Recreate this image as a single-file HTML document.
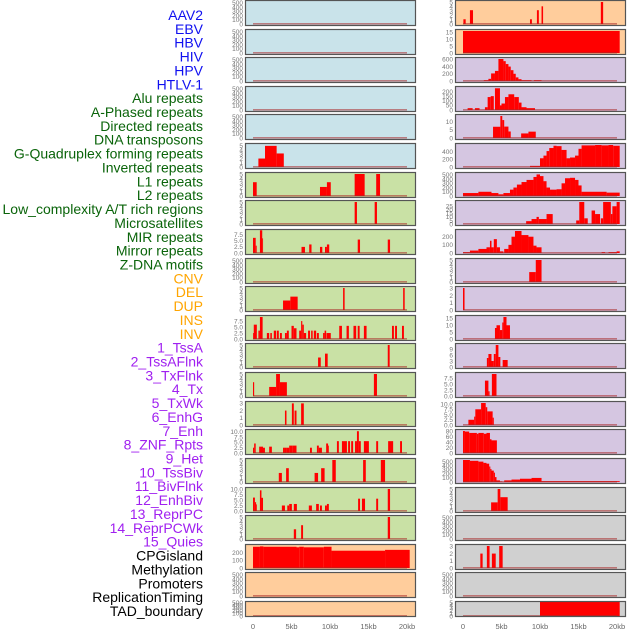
<!DOCTYPE html>
<html><head><meta charset="utf-8">
<style>
html,body{margin:0;padding:0;background:#fff;}
svg{display:block;font-family:"Liberation Sans",sans-serif;}
</style></head>
<body>
<svg id="chart" width="630" height="630" viewBox="0 0 630 630" xmlns="http://www.w3.org/2000/svg"></svg>
<script>
// ---- data ----
const labels = ["AAV2","EBV","HBV","HIV","HPV","HTLV-1","Alu repeats","A-Phased repeats","Directed repeats","DNA transposons","G-Quadruplex forming repeats","Inverted repeats","L1 repeats","L2 repeats","Low_complexity A/T rich regions","Microsatellites","MIR repeats","Mirror repeats","Z-DNA motifs","CNV","DEL","DUP","INS","INV","1_TssA","2_TssAFlnk","3_TxFlnk","4_Tx","5_TxWk","6_EnhG","7_Enh","8_ZNF_Rpts","9_Het","10_TssBiv","11_BivFlnk","12_EnhBiv","13_ReprPC","14_ReprPCWk","15_Quies","CPGisland","Methylation","Promoters","ReplicationTiming","TAD_boundary"];
const labelGroups = [0,0,0,0,0,0,1,1,1,1,1,1,1,1,1,1,1,1,1,2,2,2,2,2,3,3,3,3,3,3,3,3,3,3,3,3,3,3,3,4,4,4,4,4];
const groupColors = ["#1010f0","#0a640a","#ffa500","#a020f0","#000000"];
const xTickValues = [0,5,10,15,20];
const xTickLabels = ["0","5kb","10kb","15kb","20kb"];

const T500=[0,100,200,300,400,500], T5=[0,1,2,3,4,5], T75=[0,2.5,5,7.5], T10=[0,2.5,5,7.5,10],
      T3=[0,1,2,3], T200=[0,100,200], T15=[0,5,10,15], T600=[0,200,400,600], T200b=[0,50,100,150,200],
      T400=[0,200,400], T30=[0,5,10,15,20,25], T9=[0,3,6,9], T80=[0,20,40,60,80];

// segments: [startKb, endKb, value]
const segL5=[[0.7,1.56,2],[1.56,3.07,5],[3.07,4.0,3.2]];
const segL6=[[0,0.48,3.2],[8.7,9.6,2.1],[9.6,10.1,3.2],[13.2,14.5,5.1],[16.0,16.5,5.1]];
const segL7=[[13.2,13.5,5.1],[15.8,16.1,5.1]];
const segL8=[[0,0.35,6.2],[0.35,0.48,3],[0.9,1.2,9.3],[1.2,1.3,6],[6.3,6.75,2.5],[7.3,7.6,3.5],[8.7,9.0,2.5],[9.35,9.6,2.5],[9.6,9.9,3.5],[13.6,13.9,5.5],[17.5,17.8,5.5]];
const segL10=[[3.9,4.85,2.2],[4.85,5.8,3.1],[11.7,11.9,5.1],[19.5,19.7,5.1]];
const segL11=[[0,0.1,2.5],[0.1,0.5,6],[0.7,0.9,3.5],[0.9,1.25,9.2],[1.8,2.1,2.5],[2.25,2.45,2.5],[2.7,3.0,3.5],[3.1,3.35,3.5],[3.5,3.75,2.5],[4.15,4.4,2.5],[4.4,4.65,3.5],[5.0,5.3,5.5],[5.3,5.65,4.5],[6.0,6.25,3.5],[6.25,6.4,7.5],[6.4,6.6,6],[6.6,6.9,2.5],[7.15,7.4,3.5],[7.55,7.75,3.5],[7.9,8.2,3.5],[8.3,8.55,2.5],[9.1,9.3,2.5],[9.3,9.5,3.5],[9.55,10.1,2.5],[11.2,11.55,5.5],[12.15,12.45,5.5],[13.05,13.4,5.5],[13.6,13.85,5.5],[14.4,14.75,5.5],[18.05,18.3,5.5],[18.45,18.7,5.5],[19.35,19.6,5.5]];
const segL12=[[8.45,8.8,2.2],[9.35,9.7,3.1],[17.5,17.75,5.1]];
const segL13=[[0,0.15,3.2],[2.1,3.0,2.1],[3.0,3.5,5.1],[3.5,4.4,3.2],[15.7,16.1,5.1]];
const segL14=[[4.15,4.35,2],[5.05,5.3,3],[5.4,5.65,2],[6.25,6.6,3]];
const segL15=[[0,0.15,2.5],[0.15,0.35,4.5],[0.8,1.3,3],[1.3,1.55,2.5],[2.1,2.45,3],[3.9,4.15,2.5],[4.15,4.4,2.5],[4.4,4.7,2.5],[4.7,5.1,3.5],[5.1,5.65,3.5],[7.4,7.65,2.5],[8.3,8.55,3.5],[8.55,8.95,2.5],[9.5,9.75,4.5],[9.75,9.85,3.5],[10.9,11.15,5.6],[11.55,12.2,5.6],[12.35,12.6,5.6],[12.75,13.0,5.6],[13.25,13.5,5.6],[13.5,13.75,10.3],[13.75,14.0,5.6],[14.4,15.05,5.6],[16.0,16.25,5.6],[17.55,18.2,5.6],[19.1,19.35,5.6]];
const segL16=[[3.35,3.75,2.1],[4.3,4.65,3.2],[8.0,8.45,2.1],[8.85,9.3,3.2],[10.3,10.75,5.1],[14.3,14.65,5.1],[16.6,17.15,5.1]];
const segL17=[[0,0.25,6.1],[0.25,0.4,4],[0.4,0.5,3],[0.9,1.1,9.4],[1.1,1.3,6],[3.75,4.15,2.5],[4.45,4.7,2.5],[4.7,5.05,3.2],[5.3,5.7,3.2],[7.25,7.65,2.5],[8.2,8.55,3.2],[8.7,8.95,2.5],[9.35,9.6,2.5],[9.6,9.85,3.2],[13.65,13.9,5.6],[14.15,14.55,5.6],[16.0,16.25,5.6],[17.5,17.8,10]];
const segL18=[[5.3,5.6,2.25],[6.25,6.5,3.2],[17.5,17.8,5.1]];
const segL19=[[0,0.9,275],[0.9,1.35,280],[1.35,5.65,275],[5.65,6.0,268],[6.0,6.6,275],[6.6,9.2,268],[9.2,10.2,275],[10.2,17.15,224],[17.15,20.35,235]];

const segR0=[[0.05,0.35,1.1],[0.9,1.3,3.2],[8.7,8.95,1.1],[9.6,9.85,3.2],[10.2,10.4,4.1],[17.9,18.2,5.1]];
const segR1=[[0,20.35,16]];
const segR2=[[2.7,3.3,20],[3.3,3.65,60],[3.65,4.15,210],[4.15,4.6,280],[4.6,5.25,610],[5.25,5.55,550],[5.55,5.9,470],[5.9,6.2,400],[6.2,6.55,300],[6.55,6.85,200],[6.85,7.2,100],[7.2,7.6,50],[7.6,8.9,20],[9.2,10.2,20]];
const segR3=[[0.6,1.25,20],[1.55,2.15,20],[2.85,3.2,30],[3.2,3.6,140],[3.6,4.0,150],[4.15,4.8,235],[4.8,5.0,50],[5.0,5.45,70],[5.45,5.9,140],[5.9,6.65,170],[6.65,7.25,140],[7.25,7.6,80],[7.6,8.25,30],[8.25,9.35,20]];
const segR4=[[3.9,4.85,6.9],[4.85,5.1,13.5],[5.1,5.35,11],[5.35,5.9,7],[5.9,6.2,4],[7.55,8.5,2.8],[8.5,9.45,3.9]];
const segR5=[[8.7,10.0,30],[10.0,10.45,230],[10.45,10.85,300],[10.85,11.2,420],[11.2,11.75,500],[11.75,12.15,560],[12.15,12.8,550],[12.8,13.45,450],[13.45,13.9,230],[13.9,14.55,250],[14.55,15.0,300],[15.0,15.4,480],[15.4,17.15,570],[17.15,18.0,580],[18.0,18.9,570],[18.9,19.5,580],[19.5,20.35,560]];
const segR6=[[0,2.0,70],[2.0,3.7,100],[3.7,4.6,70],[4.6,5.25,40],[5.25,6.1,70],[6.1,6.55,150],[6.55,7.0,200],[7.0,7.6,270],[7.6,8.25,330],[8.25,9.15,380],[9.15,9.55,450],[9.55,10.0,510],[10.0,10.45,470],[10.45,10.85,350],[10.85,11.3,200],[11.3,12.15,150],[12.15,12.8,160],[12.8,13.25,300],[13.25,13.9,420],[13.9,14.55,430],[14.55,15.0,380],[15.0,15.4,250],[15.4,18.65,100],[18.65,20.35,80]];
const segR7=[[8.2,8.9,4],[8.9,9.55,7],[9.55,9.85,10],[9.85,10.85,7],[10.85,11.65,14],[14.7,15.1,5],[15.1,15.75,31],[15.75,16.2,8],[16.7,17.15,19],[17.15,17.8,14],[17.9,18.2,8],[18.2,19.2,31],[19.2,19.4,14],[19.4,19.95,25],[19.95,20.35,31]];
const segR8=[[0,0.9,10],[0.9,2.0,30],[2.0,3.05,50],[3.05,3.5,70],[3.5,3.7,150],[3.7,4.0,70],[4.0,4.4,170],[4.4,4.8,70],[4.8,5.25,20],[5.35,5.9,50],[5.9,6.3,100],[6.3,6.75,200],[6.75,7.6,270],[7.6,8.5,220],[8.5,9.15,200],[9.15,9.55,90],[9.55,10.2,70],[18.0,18.45,10],[18.9,19.95,10],[19.95,20.35,20]];
const segR9=[[8.6,9.45,2.3],[9.45,10.2,5.1]];
const segR10=[[0,0.2,3.05]];
const segR11=[[4.15,4.35,8],[4.35,4.8,10],[4.8,5.1,6.5],[5.1,5.25,12],[5.25,5.65,16],[5.65,6.1,10]];
const segR12=[[3.1,3.3,4.5],[3.3,3.7,6.5],[3.7,4.0,3],[4.0,4.25,6.5],[4.25,4.6,11],[4.6,4.85,5],[5.15,5.8,3.5]];
const segR13=[[2.85,3.3,6.5],[3.3,3.45,2],[3.75,4.35,9.3]];
const segR14=[[0.7,1.45,2.5],[1.45,1.6,4],[1.6,2.35,7.5],[2.35,2.95,10.5],[2.95,3.15,8.5],[3.15,3.85,6.5],[3.85,4.0,3.5]];
const segR15=[[0,0.25,80],[0.25,0.8,78],[0.8,1.8,73],[1.8,2.0,70],[2.0,2.7,73],[2.7,3.05,70],[3.05,3.5,73],[3.5,3.7,50],[3.7,4.4,46]];
const segR16=[[0,0.9,540],[0.9,2.0,520],[2.0,2.65,500],[2.65,3.05,470],[3.05,3.4,450],[3.4,3.55,380],[3.55,3.7,320],[3.7,4.0,280],[4.0,4.15,230],[4.15,4.35,120],[4.35,4.8,40],[4.8,5.1,10],[5.35,6.3,40],[6.3,7.4,60],[7.4,8.9,80],[8.9,10.2,100],[10.2,20.35,20]];
const segR17=[[3.65,4.5,2],[4.5,4.85,5.1],[4.85,5.8,3.2]];
const segR19=[[2.25,2.55,2],[3.1,3.45,3.05],[3.75,4.25,2],[4.7,5.15,3.05]];
const segR21=[[10.0,20.35,5.2]];

const leftPanels = [
 {seg:[],t:T500,m:520},{seg:[],t:T500,m:520},{seg:[],t:T500,m:520},{seg:[],t:T500,m:520},{seg:[],t:T500,m:520},
 {seg:segL5,t:T5,m:5.2},{seg:segL6,t:T5,m:5.1},{seg:segL7,t:T5,m:5.1},{seg:segL8,t:T75,m:9},{seg:[],t:T500,m:520},
 {seg:segL10,t:T5,m:5.1},{seg:segL11,t:T75,m:9.2},{seg:segL12,t:T5,m:5.1},{seg:segL13,t:T5,m:5.1},{seg:segL14,t:T3,m:3.05},
 {seg:segL15,t:T10,m:10.4},{seg:segL16,t:T5,m:5.1},{seg:segL17,t:T10,m:10},{seg:segL18,t:T5,m:5.1},{seg:segL19,t:T200,m:285},
 {seg:[],t:T500,m:520},{seg:[],t:T500,m:520}];
const rightPanels = [
 {seg:segR0,t:T5,m:5.1},{seg:segR1,t:T15,m:16},{seg:segR2,t:T600,m:610},{seg:segR3,t:T200b,m:238},{seg:segR4,t:T15.slice(0,3),m:13.5},
 {seg:segR5,t:T400,m:580},{seg:segR6,t:T500,m:520},{seg:segR7,t:T30,m:31},{seg:segR8,t:T200,m:270},{seg:segR9,t:T5,m:5.1},
 {seg:segR10,t:T3,m:3.05},{seg:segR11,t:T15,m:16},{seg:segR12,t:T9,m:11},{seg:segR13,t:T75,m:9.3},{seg:segR14,t:T10,m:10.5},
 {seg:segR15,t:T80,m:80},{seg:segR16,t:T500,m:540},{seg:segR17,t:T5,m:5.1},{seg:[],t:T500,m:520},{seg:segR19,t:T3,m:3.05},
 {seg:[],t:T500,m:520},{seg:segR21,t:T5,m:5.2}];

const leftBg = ["#c9e3ea","#c9e3ea","#c9e3ea","#c9e3ea","#c9e3ea","#c9e3ea","#c9e1a5","#c9e1a5","#c9e1a5","#c9e1a5","#c9e1a5","#c9e1a5","#c9e1a5","#c9e1a5","#c9e1a5","#c9e1a5","#c9e1a5","#c9e1a5","#c9e1a5","#ffcd9c","#ffcd9c","#ffcd9c"];
const rightBg = ["#ffcd9c","#ffcd9c","#d5c6e1","#d5c6e1","#d5c6e1","#d5c6e1","#d5c6e1","#d5c6e1","#d5c6e1","#d5c6e1","#d5c6e1","#d5c6e1","#d5c6e1","#d5c6e1","#d5c6e1","#d5c6e1","#d5c6e1","#d0d0d0","#d0d0d0","#d0d0d0","#d0d0d0","#d0d0d0"];

// ---- drawing ----
const NS="http://www.w3.org/2000/svg";
const svg=document.getElementById('chart');
function mk(tag,attrs,parent){const e=document.createElementNS(NS,tag);for(const k in attrs)e.setAttribute(k,attrs[k]);(parent||svg).appendChild(e);return e;}
function fmt(v,ticks){const dec=ticks.some(t=>t%1!==0);return dec?v.toFixed(1):String(v);}

labels.forEach((lab,i)=>{
  const t=mk('text',{x:203,y:15+i*13.86+5,'text-anchor':'end','font-size':'14',fill:groupColors[labelGroups[i]]});
  t.textContent=lab;
  
  
});

function drawColumn(panels,bgs,left,side){
  const W=171;
  const xs=kb=>left+8+kb*7.7;
  panels.forEach((p,i)=>{
    const top=Math.round(i*28.62);
    const last=(i===panels.length-1);
    const h=last?16:26;
    const base=top+(last?15:24), yTop=top+(last?1:2);
    const ys=v=>base-(v/p.m)*(base-yTop);
    const g=mk('g',{});
    
    
    const cid='clip-'+side+i;
    const cp=mk('clipPath',{id:cid},g);mk('rect',{x:left,y:top,width:W,height:h},cp);
    mk('rect',{x:left,y:top,width:W,height:h,fill:bgs[i]},g);
    const bars=mk('g',{'clip-path':'url(#'+cid+')'},g);
    p.seg.forEach(s=>{
      const r=mk('rect',{x:xs(s[0]),y:ys(s[2]),width:Math.max(0.8,xs(s[1])-xs(s[0])),height:base-ys(s[2]),fill:'#ff0000'},bars);
      
      
    });
    mk('rect',{x:xs(0),y:base-1,width:xs(20)-xs(0),height:1.6,fill:'rgba(170,40,40,0.55)'},g);
    mk('rect',{x:left+0.5,y:top+0.5,width:W-1,height:h-1,fill:'none',stroke:'#555','stroke-width':1.2},g);
    p.t.forEach(t=>{
      const tx=mk('text',{x:left-2,y:ys(t)+2.3,'text-anchor':'end','font-size':'6.5',fill:'#777'},g);
      tx.textContent=fmt(t,p.t);
      
      
    });
  });
  xTickValues.forEach((v,k)=>{
    const tx=mk('text',{x:xs(v),y:629,'text-anchor':'middle','font-size':'7.5',fill:'#666'});
    tx.textContent=xTickLabels[k];
    
    
  });
}
drawColumn(leftPanels,leftBg,245,'left');
drawColumn(rightPanels,rightBg,455,'right');
</script>
</body></html>
